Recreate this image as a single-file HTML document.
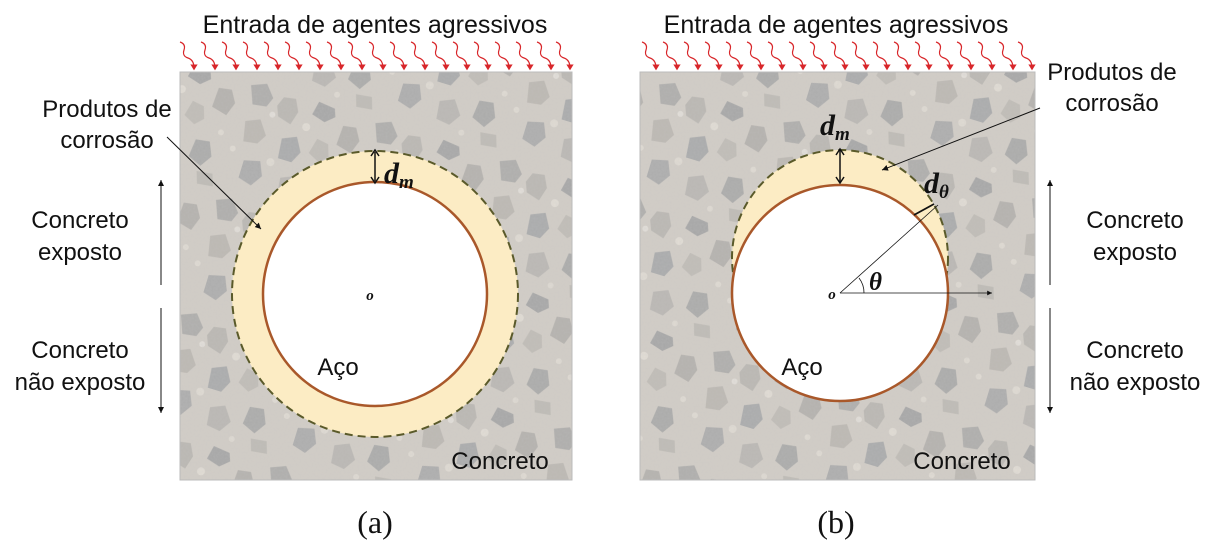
<!DOCTYPE html>
<html><head><meta charset="utf-8"><style>
html,body{margin:0;padding:0;background:#fff;width:1222px;height:547px;overflow:hidden}
svg text{font-family:"Liberation Sans",sans-serif;fill:#111}
.s{font-family:"Liberation Serif",serif;font-weight:bold;font-style:italic}
</style></head><body>
<svg width="1222" height="547" viewBox="0 0 1222 547" xmlns="http://www.w3.org/2000/svg">
<defs>
<pattern id="stones" width="130" height="120" patternUnits="userSpaceOnUse" patternTransform="rotate(17)">
<rect width="130" height="120" fill="#d2cdc6"/>
<polygon points="5,8 20,2 30,14 26,24 12,26" fill="#aeadab"/>
<polygon points="40,10 52,8 58,20 54,34 40,30 36,20" fill="#bab7b2"/>
<polygon points="75,4 92,6 95,14 86,22 72,18" fill="#a6a6a6"/>
<polygon points="105,20 118,18 125,30 120,44 104,40" fill="#b4b1ad"/>
<polygon points="10,44 24,38 34,52 28,62 14,64" fill="#bcb8b2"/>
<polygon points="50,50 64,44 72,58 66,70 52,70" fill="#a9aaab"/>
<polygon points="84,40 96,42 100,54 92,62 80,56" fill="#c0bcb6"/>
<polygon points="20,82 36,78 42,92 34,104 20,100" fill="#acacac"/>
<polygon points="60,88 74,82 84,96 76,108 62,106" fill="#bab7b3"/>
<polygon points="98,76 112,74 118,88 110,100 96,94" fill="#aaaaa9"/>
<polygon points="108,106 124,104 128,116 112,118" fill="#bebbb5"/>
<circle cx="34" cy="30" r="3" fill="#e3dfd9"/><circle cx="70" cy="32" r="4" fill="#e2ddd5"/>
<circle cx="46" cy="76" r="4" fill="#e0dbd3"/><circle cx="90" cy="112" r="3" fill="#dfdad2"/>
<circle cx="6" cy="74" r="3" fill="#e0dbd3"/><circle cx="120" cy="62" r="3" fill="#e0dbd3"/>
</pattern>
<filter id="n"><feTurbulence type="fractalNoise" baseFrequency="0.5" numOctaves="2" result="t"/><feColorMatrix type="matrix" values="0 0 0 0 0.55 0 0 0 0 0.55 0 0 0 0 0.55 0 0 0 0.3 0"/><feComposite in2="SourceGraphic" operator="in"/></filter>
<marker id="a" markerWidth="8" markerHeight="8" refX="6" refY="3" orient="auto"><path d="M0,0 L6,3 L0,6z" fill="#111"/></marker>
<marker id="r" markerWidth="6" markerHeight="6" refX="3" refY="3" orient="auto"><path d="M0,0 L5,3 L0,6z" fill="#d8262a"/></marker>
<g id="wave"><path d="M0,0 q6,2 4,8 q-2,6 4,8 q6,2 6,10" fill="none" stroke="#d8262a" stroke-width="1.2" marker-end="url(#r)"/></g>
</defs>

<!-- Panel A -->
<rect x="180" y="72" width="392" height="408" fill="url(#stones)"/>
<rect x="180" y="72" width="392" height="408" fill="#fff" filter="url(#n)"/>
<rect x="180" y="72" width="392" height="408" fill="none" stroke="#bbb"/>
<circle cx="375" cy="294" r="143" fill="#fcecc4" stroke="#5a5a2a" stroke-width="2" stroke-dasharray="8,5"/>
<circle cx="375" cy="294" r="112" fill="#fff" stroke="#a9582a" stroke-width="2.5"/>
<text x="375" y="33" font-size="25" text-anchor="middle">Entrada de agentes agressivos</text>
<g>
<use href="#wave" x="180" y="42"/><use href="#wave" x="201" y="42"/><use href="#wave" x="222" y="42"/><use href="#wave" x="243" y="42"/><use href="#wave" x="264" y="42"/><use href="#wave" x="285" y="42"/><use href="#wave" x="306" y="42"/><use href="#wave" x="327" y="42"/><use href="#wave" x="348" y="42"/><use href="#wave" x="369" y="42"/><use href="#wave" x="390" y="42"/><use href="#wave" x="411" y="42"/><use href="#wave" x="432" y="42"/><use href="#wave" x="453" y="42"/><use href="#wave" x="474" y="42"/><use href="#wave" x="495" y="42"/><use href="#wave" x="516" y="42"/><use href="#wave" x="537" y="42"/><use href="#wave" x="556" y="42"/>
</g>
<text x="107" y="117" font-size="24" text-anchor="middle">Produtos de</text>
<text x="107" y="148" font-size="24" text-anchor="middle">corrosão</text>
<line x1="167" y1="137" x2="261" y2="229" stroke="#111" stroke-width="1" marker-end="url(#a)"/>
<text x="80" y="228" font-size="24" text-anchor="middle">Concreto</text>
<text x="80" y="260" font-size="24" text-anchor="middle">exposto</text>
<text x="80" y="358" font-size="24" text-anchor="middle">Concreto</text>
<text x="80" y="390" font-size="24" text-anchor="middle">não exposto</text>
<line x1="161" y1="285" x2="161" y2="180" stroke="#111" marker-end="url(#a)"/>
<line x1="161" y1="308" x2="161" y2="413" stroke="#111" marker-end="url(#a)"/>
<line x1="375" y1="152" x2="375" y2="181" stroke="#111" stroke-width="1.5"/>
<path d="M371,156 L375,150 L379,156 M371,177 L375,183 L379,177" fill="none" stroke="#111" stroke-width="1.5"/>
<text x="384" y="183" font-size="30" class="s">d<tspan font-size="19" dy="5">m</tspan></text>
<text x="370" y="300" font-size="15" class="s" text-anchor="middle">o</text>
<text x="338" y="375" font-size="24" text-anchor="middle">Aço</text>
<text x="500" y="469" font-size="24" text-anchor="middle">Concreto</text>
<text x="375" y="533" font-size="32" text-anchor="middle" style="font-family:'Liberation Serif',serif">(a)</text>

<!-- Panel B -->
<rect x="640" y="72" width="395" height="408" fill="url(#stones)"/>
<rect x="640" y="72" width="395" height="408" fill="#fff" filter="url(#n)"/>
<rect x="640" y="72" width="395" height="408" fill="none" stroke="#bbb"/>
<circle cx="840" cy="258" r="108" fill="#fcecc4" stroke="#5a5a2a" stroke-width="2" stroke-dasharray="8,5"/>
<circle cx="840" cy="293" r="108" fill="#fff" stroke="#a9582a" stroke-width="2.5"/>
<text x="836" y="33" font-size="25" text-anchor="middle">Entrada de agentes agressivos</text>
<g>
<use href="#wave" x="642" y="42"/><use href="#wave" x="663" y="42"/><use href="#wave" x="684" y="42"/><use href="#wave" x="705" y="42"/><use href="#wave" x="726" y="42"/><use href="#wave" x="747" y="42"/><use href="#wave" x="768" y="42"/><use href="#wave" x="789" y="42"/><use href="#wave" x="810" y="42"/><use href="#wave" x="831" y="42"/><use href="#wave" x="852" y="42"/><use href="#wave" x="873" y="42"/><use href="#wave" x="894" y="42"/><use href="#wave" x="915" y="42"/><use href="#wave" x="936" y="42"/><use href="#wave" x="957" y="42"/><use href="#wave" x="978" y="42"/><use href="#wave" x="999" y="42"/><use href="#wave" x="1018" y="42"/>
</g>
<text x="1112" y="80" font-size="24" text-anchor="middle">Produtos de</text>
<text x="1112" y="111" font-size="24" text-anchor="middle">corrosão</text>
<line x1="1040" y1="108" x2="882" y2="170" stroke="#111" stroke-width="1" marker-end="url(#a)"/>
<text x="1135" y="228" font-size="24" text-anchor="middle">Concreto</text>
<text x="1135" y="260" font-size="24" text-anchor="middle">exposto</text>
<text x="1135" y="358" font-size="24" text-anchor="middle">Concreto</text>
<text x="1135" y="390" font-size="24" text-anchor="middle">não exposto</text>
<line x1="1050" y1="285" x2="1050" y2="180" stroke="#111" marker-end="url(#a)"/>
<line x1="1050" y1="308" x2="1050" y2="413" stroke="#111" marker-end="url(#a)"/>
<line x1="840" y1="150" x2="840" y2="182" stroke="#111" stroke-width="1.5"/>
<path d="M836,155 L840,149 L844,155 M836,177 L840,183 L844,177" fill="none" stroke="#111" stroke-width="1.5"/>
<text x="820" y="135" font-size="30" class="s">d<tspan font-size="19" dy="5">m</tspan></text>
<line x1="840" y1="293" x2="938" y2="205" stroke="#111" stroke-width="0.8"/>
<line x1="914" y1="215" x2="934" y2="204" stroke="#111" stroke-width="1.8"/>
<text x="924" y="193" font-size="30" class="s">d<tspan font-size="19" dy="5">θ</tspan></text>
<line x1="840" y1="293" x2="992" y2="293" stroke="#111" stroke-width="0.8" marker-end="url(#a)"/>
<path d="M864,293 A24,24 0 0 0 859,278" fill="none" stroke="#111" stroke-width="0.8"/>
<text x="869" y="290" font-size="25" class="s">θ</text>
<text x="832" y="299" font-size="15" class="s" text-anchor="middle">o</text>
<text x="802" y="375" font-size="24" text-anchor="middle">Aço</text>
<text x="962" y="469" font-size="24" text-anchor="middle">Concreto</text>
<text x="836" y="533" font-size="32" text-anchor="middle" style="font-family:'Liberation Serif',serif">(b)</text>
</svg>
</body></html>
